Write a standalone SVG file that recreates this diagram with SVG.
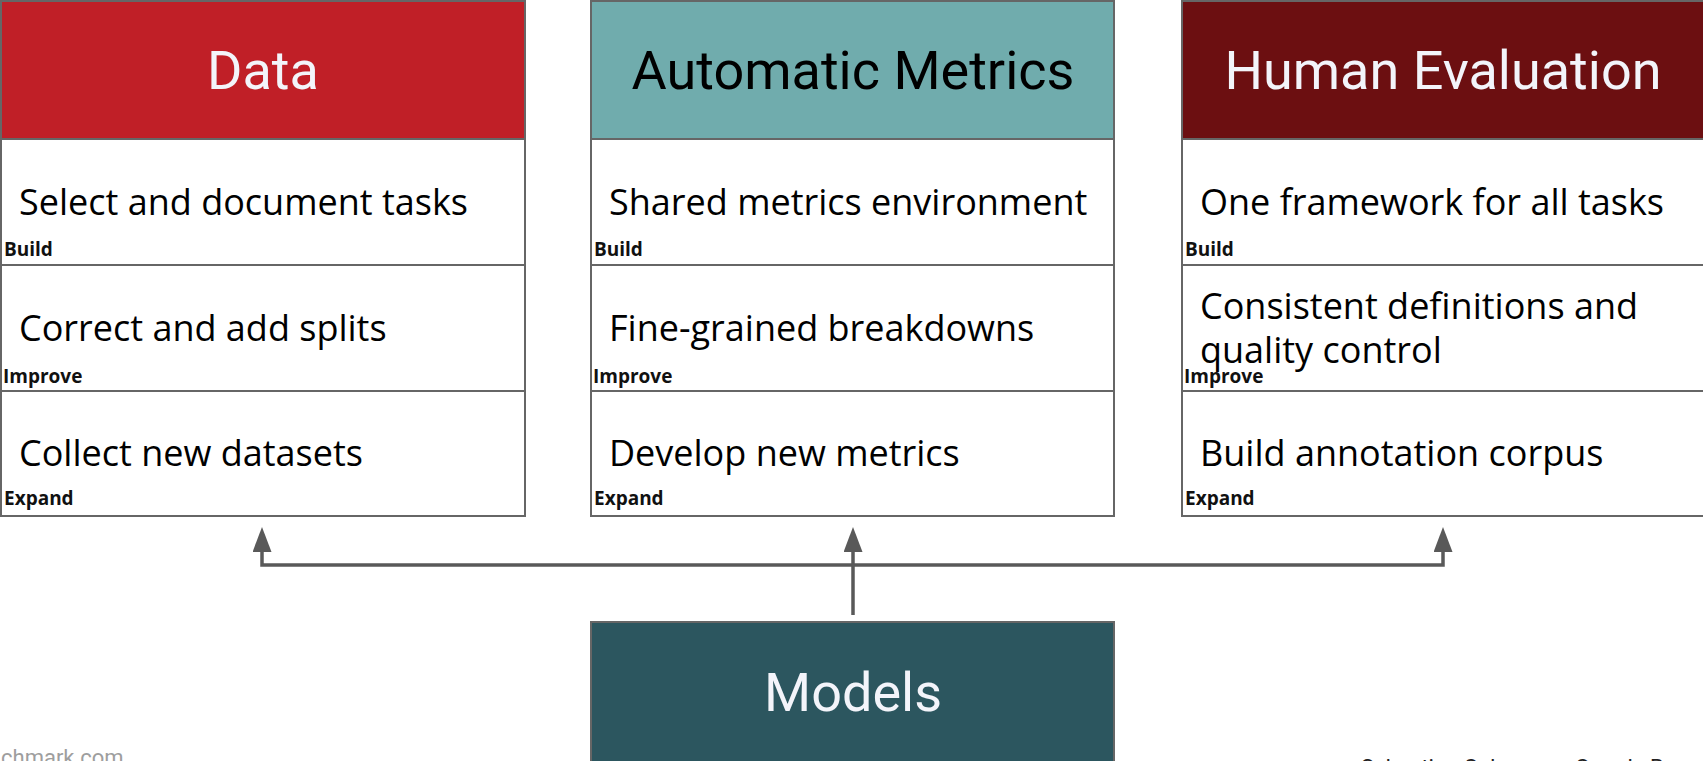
<svg xmlns="http://www.w3.org/2000/svg" width="1703" height="761" viewBox="0 0 1703 761">
<style>
.box{fill:#ffffff;stroke:#666666;stroke-width:2}
.hd{font-family:Roboto,"Liberation Sans",sans-serif;font-size:54px;text-anchor:middle}
.light{fill:#F3F4FA}
.dark{fill:#000000}
.body{font-family:"Open Sans","Liberation Sans",sans-serif;font-size:36px;fill:#000000}
.lbl{font-family:"Open Sans","Liberation Sans",sans-serif;font-size:19px;font-weight:700;fill:#111111}
.conn{fill:none;stroke:#595959;stroke-width:3.5;stroke-linejoin:miter}
.foot{font-family:Roboto,"Liberation Sans",sans-serif;font-size:22px}
</style>
<defs>
<marker id="ah" markerUnits="userSpaceOnUse" markerWidth="25" markerHeight="19" refX="7" refY="9.5" orient="auto">
<path d="M0,0 L25,9.5 L0,19 Z" fill="#595959"/>
</marker>
</defs>
<rect width="1703" height="761" fill="#ffffff"/>

<g id="data">
<rect x="1" y="1" width="524" height="138" fill="#C01F27" stroke="#666666" stroke-width="2"/>
<text class="hd light" x="263" y="89">Data</text>
<rect class="box" x="1" y="139" width="524" height="126"/>
<text class="body" x="19" y="215">Select and document tasks</text>
<text class="lbl" x="4" y="256">Build</text>
<rect class="box" x="1" y="265" width="524" height="126"/>
<text class="body" x="19" y="341">Correct and add splits</text>
<text class="lbl" x="3" y="383">Improve</text>
<rect class="box" x="1" y="391" width="524" height="125"/>
<text class="body" x="19" y="466">Collect new datasets</text>
<text class="lbl" x="4" y="505">Expand</text>
</g>

<g id="metrics">
<rect x="591" y="1" width="523" height="138" fill="#70ACAD" stroke="#666666" stroke-width="2"/>
<text class="hd dark" x="853" y="89">Automatic Metrics</text>
<rect class="box" x="591" y="139" width="523" height="126"/>
<text class="body" x="609" y="215">Shared metrics environment</text>
<text class="lbl" x="594" y="256">Build</text>
<rect class="box" x="591" y="265" width="523" height="126"/>
<text class="body" x="609" y="341">Fine-grained breakdowns</text>
<text class="lbl" x="593" y="383">Improve</text>
<rect class="box" x="591" y="391" width="523" height="125"/>
<text class="body" x="609" y="466">Develop new metrics</text>
<text class="lbl" x="594" y="505">Expand</text>
</g>

<g id="human">
<rect x="1182" y="1" width="540" height="138" fill="#6C0F11" stroke="#666666" stroke-width="2"/>
<text class="hd light" x="1443" y="89">Human Evaluation</text>
<rect class="box" x="1182" y="139" width="540" height="126"/>
<text class="body" x="1200" y="215">One framework for all tasks</text>
<text class="lbl" x="1185" y="256">Build</text>
<rect class="box" x="1182" y="265" width="540" height="126"/>
<text class="body" x="1200" y="319">Consistent definitions and</text>
<text class="body" x="1200" y="363">quality control</text>
<text class="lbl" x="1184" y="383">Improve</text>
<rect class="box" x="1182" y="391" width="540" height="125"/>
<text class="body" x="1200" y="466">Build annotation corpus</text>
<text class="lbl" x="1185" y="505">Expand</text>
</g>

<g id="models">
<rect x="591" y="622" width="523" height="160" fill="#2C565F" stroke="#666666" stroke-width="2"/>
<text class="hd light" x="853" y="711">Models</text>
</g>

<g id="connectors">
<path class="conn" d="M853,565 H262 V545" marker-end="url(#ah)"/>
<path class="conn" d="M853,565 H1443 V545" marker-end="url(#ah)"/>
<path class="conn" d="M853,615 V545" marker-end="url(#ah)"/>
</g>

<g id="footer">
<text class="foot" x="1" y="765" fill="#9E9E9E">chmark.com</text>
<text class="foot" x="1361" y="775" fill="#222222">Sebastian Gehrmann, Google Research</text>
</g>
</svg>
